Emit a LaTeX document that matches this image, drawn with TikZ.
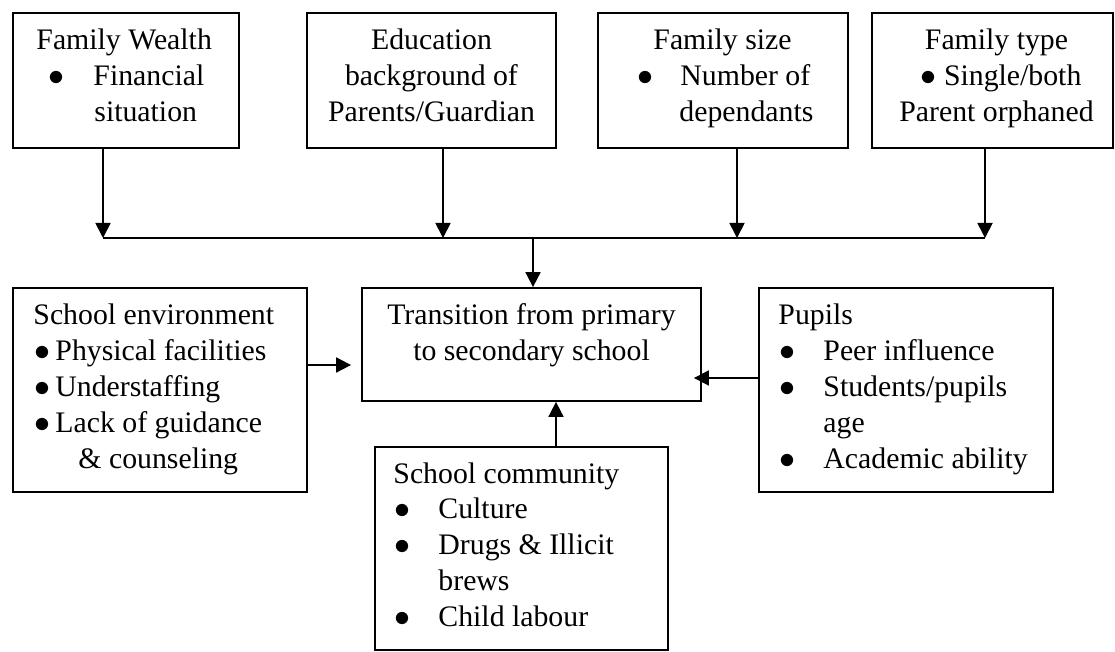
\documentclass[tikz,border=0pt]{standalone}
\usepackage{fontspec}
\setmainfont{Liberation Serif}
\usetikzlibrary{fit,arrows.meta}
\newlength{\px}\setlength{\px}{0.45pt}
\newcommand{\itm}[2]{\makebox[#1][l]{$\bullet$}#2}

\begin{document}
\begin{tikzpicture}[x=0.45pt, y=-0.45pt, font=\fontsize{13.4}{16.1}\selectfont]

\tikzset{box/.style={draw, line width=0.8pt, inner sep=0pt}}
\tikzset{txt/.style={inner sep=0pt, anchor=base west}}
\tikzset{ctxt/.style={inner sep=0pt, anchor=base}}
\tikzset{myarrow/.style={-{Triangle[length=6.75pt, width=6.75pt]}, line width=0.8pt}}

\useasboundingbox (0,0) rectangle (1115,652);

% top row
\node[box, fit={(13,13) (239,148)}] (fw) {};
\node[box, fit={(307,13) (556,148)}] (edu) {};
\node[box, fit={(598,13) (848,148)}] (fs) {};
\node[box, fit={(872,13) (1113,148)}] (ft) {};

\node[txt] (fwtext) at (36,50) {\begin{tabular}[t]{@{}l@{}}Family Wealth\\
  \hspace*{12\px}\itm{45\px}{Financial}\\ \hspace*{58\px}situation\end{tabular}};
\node[ctxt] (edutext) at (431.5,50) {\begin{tabular}[t]{@{}c@{}}Education\\
  background of\\ Parents/Guardian\end{tabular}};
\node[txt] (fstext) at (637,50) {\begin{tabular}[t]{@{}l@{}}\hspace*{16\px}Family size\\
  \itm{43\px}{Number of}\\ \hspace*{42\px}dependants\end{tabular}};
\node[ctxt] (fttext) at (996.5,50) {\begin{tabular}[t]{@{}c@{}}Family type\\
  \hspace*{9\px}$\bullet$ Single/both\\ Parent orphaned\end{tabular}};

% middle and bottom
\node[box, fit={(13,288) (307,492)}] (env) {};
\node[box, fit={(362,288) (701,401)}] (tr) {};
\node[box, fit={(759,288) (1053,492)}] (pu) {};
\node[box, fit={(375,447) (668,650)}] (sc) {};

\node[txt] (envtext) at (33,325) {\begin{tabular}[t]{@{}l@{}}School environment\\
  \hspace*{1\px}\itm{21\px}{Physical facilities}\\
  \hspace*{1\px}\itm{21\px}{Understaffing}\\
  \hspace*{1\px}\itm{21\px}{Lack of guidance}\\
  \hspace*{45\px}\& counseling\end{tabular}};
\node[ctxt] (trtext) at (531.5,325) {\begin{tabular}[t]{@{}c@{}}Transition from primary\\
  to secondary school\end{tabular}};
\node[txt] (putext) at (778,325) {\begin{tabular}[t]{@{}l@{}}Pupils\\
  \hspace*{1\px}\itm{44\px}{Peer influence}\\
  \hspace*{1\px}\itm{44\px}{Students/pupils}\\
  \hspace*{45\px}age\\
  \hspace*{1\px}\itm{44\px}{Academic ability}\end{tabular}};
\node[txt] (sctext) at (393,483) {\begin{tabular}[t]{@{}l@{}}School community\\
  \hspace*{1\px}\itm{44\px}{Culture}\\
  \hspace*{1\px}\itm{44\px}{Drugs \& Illicit}\\
  \hspace*{45\px}brews\\
  \hspace*{1\px}\itm{44\px}{Child labour}\end{tabular}};

% connectors
\coordinate (b1) at (103,238);
\coordinate (b2) at (443,238);
\coordinate (b3) at (737,238);
\coordinate (b4) at (985,238);
\coordinate (bc) at (533,238);
\coordinate (ea) at (307,365);
\coordinate (pa) at (759,378);
\coordinate (ca) at (556,447);

\draw[myarrow] (fw.south -| b1) -- (b1);
\draw[myarrow] (edu.south -| b2) -- (b2);
\draw[myarrow] (fs.south -| b3) -- (b3);
\draw[myarrow] (ft.south -| b4) -- (b4);
\draw[line width=0.8pt] (b1) -- (b4);
\draw[myarrow] (bc) -- (bc |- tr.north);
\draw[myarrow, shorten >=4.5pt] (ea) -- (ea -| tr.west);
\draw[myarrow, shorten >=-3.6pt] (pa) -- (pa -| tr.east);
\draw[myarrow] (ca) -- (ca |- tr.south);
\end{tikzpicture}
\end{document}
